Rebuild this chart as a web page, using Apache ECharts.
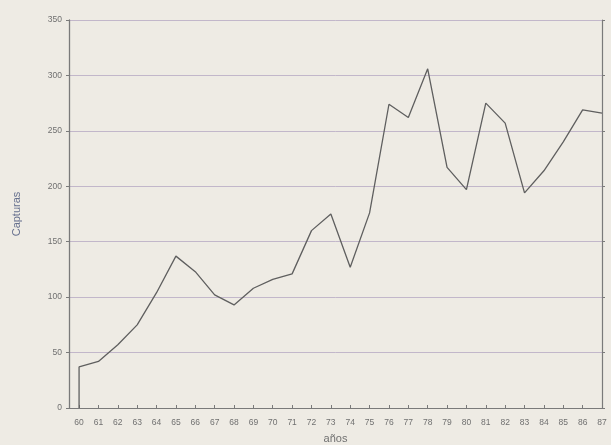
<!DOCTYPE html>
<html>
<head>
<meta charset="utf-8">
<script src="https://cdn.jsdelivr.net/npm/echarts@6/dist/echarts.min.js"></script>
<style>
html,body{margin:0;padding:0;background:#eeebe4;}
#c{width:611px;height:445px;}
</style>
</head>
<body>
<div id="c"></div>
<script>
var years = [60,61,62,63,64,65,66,67,68,69,70,71,72,73,74,75,76,77,78,79,80,81,82,83,84,85,86,87];
var capturas = [37,42,57,75,104,137,123,102,93,108,116,121,160,175,127,176,274,262,306,217,197,275,257,194,214,240,269,266];
var yTicks = [0,50,100,150,200,250,300,350];
var startValue = 0;

var data = [[years[0], startValue]];
for (var i = 0; i < years.length; i++) data.push([years[i], capturas[i]]);

var chart = echarts.init(document.getElementById('c'));
var lab = {color:'#707070', fontSize:8.5, fontFamily:'Liberation Sans'};
chart.setOption({
  backgroundColor:'#eeebe4',
  animation:false,
  grid:{left:69, right:9, top:20, bottom:37, containLabel:false, outerBoundsMode:'none'},
  xAxis:{
    type:'value', min:59.48, max:87,
    name:'años', nameLocation:'middle', nameGap:25,
    nameTextStyle:{color:'#707070', fontSize:11, fontFamily:'Liberation Sans'},
    axisLine:{show:true, lineStyle:{color:'#7a7a7a', width:1.2}},
    axisTick:{show:true, inside:true, length:3, customValues:years, lineStyle:{color:'#7a7a7a'}},
    axisLabel:Object.assign({customValues:years, margin:10, formatter:function(v){return String(v);}}, lab),
    splitLine:{show:false}
  },
  yAxis:[{
    type:'value', min:0, max:350, interval:50,
    name:'Capturas', nameLocation:'middle', nameGap:47,
    nameTextStyle:{color:'#66708e', fontSize:11, fontFamily:'Liberation Sans'},
    axisLine:{show:true, lineStyle:{color:'#7a7a7a', width:1.3}},
    axisTick:{show:true, length:3, lineStyle:{color:'#7a7a7a'}},
    axisLabel:Object.assign({margin:7}, lab),
    splitLine:{show:true, lineStyle:{color:'#b3a6c2', width:1, opacity:0.75}}
  },{
    type:'value', min:0, max:350, interval:50, position:'right',
    axisLine:{show:true, lineStyle:{color:'#7a7a7a', width:1.2}},
    axisTick:{show:true, length:3, lineStyle:{color:'#7a7a7a'}},
    axisLabel:{show:false},
    splitLine:{show:false}
  }],
  series:[{
    type:'line', data:data, symbol:'none',
    lineStyle:{color:'#5f5f5f', width:1.3}
  }]
});
</script>
</body>
</html>
